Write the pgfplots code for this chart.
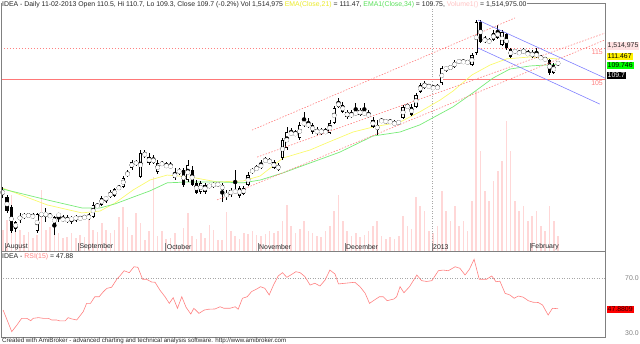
\documentclass[border=0pt]{standalone}
\usepackage{pgfplots}
\pgfplotsset{compat=1.18}
\usepackage{pgfplotstable}
\usepackage{fontspec}
\setmainfont{Liberation Sans}
\definecolor{salmon}{RGB}{255,128,128}
\definecolor{hlinec}{RGB}{255,120,120}
\definecolor{volpink}{RGB}{255,215,215}
\definecolor{emay}{RGB}{250,250,110}
\definecolor{emag}{RGB}{120,235,120}
\definecolor{tlblue}{RGB}{128,128,255}
\definecolor{framec}{RGB}{128,128,128}
\definecolor{txt}{RGB}{40,40,40}
\definecolor{hy}{RGB}{235,235,40}
\definecolor{hg}{RGB}{90,225,90}
\definecolor{hp}{RGB}{255,195,195}

\pgfplotstableread{
i O H L C
0 67.6 70.2 66.6 69.2
1 66.9 67.6 61.8 62.4
2 63.7 64.4 55.3 56.0
3 56.6 59.2 55.6 58.9
4 59.5 61.8 58.5 60.8
5 60.5 61.8 59.8 61.1
6 60.8 61.8 60.2 61.1
7 61.1 61.8 59.8 60.2
8 56.0 61.8 55.3 61.5
9 61.1 61.8 60.5 61.5
10 61.1 63.4 58.9 61.5
11 61.1 61.8 60.2 60.5
12 58.2 60.8 54.7 60.5
13 60.8 61.8 58.9 61.5
14 60.2 61.1 58.9 59.2
15 60.2 61.1 58.5 58.9
16 59.2 60.8 58.2 60.5
17 59.5 61.1 58.9 60.8
18 60.2 60.8 59.5 59.8
19 60.5 61.1 59.8 60.2
20 59.8 61.8 59.5 61.1
21 60.5 65.3 60.2 64.4
22 63.7 65.0 63.4 64.4
23 64.4 67.3 64.0 66.6
24 66.0 67.3 65.0 66.9
25 66.9 69.2 66.6 68.5
26 67.3 69.8 66.9 69.5
27 70.2 70.8 69.2 69.5
28 70.2 73.7 69.8 73.1
29 73.7 75.6 73.4 75.0
30 76.3 78.9 75.6 78.2
31 78.2 78.9 76.9 77.6
32 73.4 82.1 73.1 81.1
33 80.5 82.1 79.5 80.8
34 79.8 81.1 77.3 77.9
35 79.5 80.5 77.6 77.9
36 75.0 78.9 74.4 77.9
37 77.3 78.5 76.9 77.9
38 77.3 78.2 76.3 76.6
39 77.3 78.2 76.0 76.3
40 74.7 76.3 72.4 73.1
41 74.7 76.3 74.0 75.6
42 75.6 76.3 70.2 70.8
43 72.4 78.9 71.8 77.3
44 75.6 76.9 70.5 70.8
45 71.5 72.4 67.9 68.2
46 68.5 72.1 67.9 71.5
47 70.8 71.5 67.9 68.5
48 70.2 71.1 69.8 70.8
49 70.2 71.8 69.8 71.5
50 71.5 71.8 70.2 70.5
51 69.2 71.5 65.3 70.8
52 66.9 69.2 66.0 68.2
53 67.6 69.8 66.9 69.2
54 69.2 75.6 67.9 68.2
55 67.3 70.5 66.6 69.8
56 67.9 70.5 67.6 69.8
57 70.8 75.0 70.5 74.0
58 75.0 76.3 74.4 75.6
59 75.6 77.3 75.3 76.6
60 76.3 78.9 76.0 77.6
61 79.2 79.8 77.9 78.2
62 78.9 79.5 77.6 77.9
63 78.2 78.9 76.0 76.3
64 75.6 77.9 75.3 77.3
65 79.5 86.0 78.9 85.3
66 82.7 89.5 82.1 87.9
67 87.9 89.2 86.6 86.9
68 87.6 88.5 86.6 86.9
69 86.0 91.1 85.3 90.2
70 90.2 94.4 89.5 91.1
71 90.8 92.4 89.2 89.5
72 90.2 90.8 87.3 87.9
73 88.5 89.5 86.9 87.6
74 87.6 89.2 86.9 88.5
75 88.2 89.2 87.3 87.6
76 87.6 91.8 87.3 90.8
77 90.8 96.3 90.5 95.6
78 97.6 98.9 95.6 96.0
79 96.6 97.6 94.0 94.4
80 92.7 95.0 92.1 94.4
81 92.7 95.0 92.4 94.0
82 93.4 97.3 93.1 94.4
83 93.4 95.6 93.1 95.0
84 93.4 97.3 93.1 94.4
85 94.0 95.0 92.4 92.7
86 91.8 92.7 89.2 89.5
87 88.5 91.8 86.9 90.2
88 91.1 92.4 90.8 91.8
89 90.8 92.1 90.5 91.8
90 91.5 92.1 90.5 90.8
91 91.1 91.8 89.8 90.2
92 90.5 91.8 90.2 91.5
93 92.4 96.6 92.1 96.0
94 95.6 97.3 95.3 96.6
95 96.0 96.9 93.1 93.4
96 96.0 100.5 95.6 99.8
97 100.8 103.7 100.5 103.1
98 103.7 104.4 101.8 102.1
99 102.7 103.4 102.1 102.4
100 102.4 103.1 101.5 101.8
101 101.8 103.4 101.5 102.7
102 103.7 109.2 103.1 108.5
103 107.9 109.2 107.3 108.9
104 108.5 109.5 107.9 108.9
105 108.9 111.1 108.5 110.5
106 110.5 111.5 109.8 110.8
107 110.2 111.5 109.8 110.8
108 110.5 111.1 109.8 110.2
109 109.5 113.4 109.2 112.7
110 113.4 124.0 112.7 123.4
111 123.4 124.0 116.6 116.9
112 118.2 118.9 116.6 116.9
113 116.6 118.2 116.3 117.6
114 117.6 120.8 117.3 119.8
115 120.5 122.4 117.9 118.2
116 116.0 120.8 115.6 120.2
117 119.5 119.8 114.4 115.0
118 114.7 115.0 111.8 112.1
119 113.4 114.7 113.1 114.4
120 113.7 114.4 112.7 113.1
121 113.4 115.0 113.1 114.4
122 113.4 114.4 112.4 112.7
123 112.1 114.4 111.8 113.7
124 112.1 115.0 111.8 113.4
125 112.1 112.7 111.1 111.5
126 111.5 112.1 110.8 111.1
127 111.1 111.5 106.3 106.9
128 106.9 110.2 106.6 109.5
129 110.5 110.7 109.3 109.7
}\candles

\pgfplotstableread{
i V
0 2.1
1 3.1
2 5.6
3 2.4
4 2.1
5 1.6
6 1.9
7 1.3
8 1.6
9 6.1
10 2.1
11 2.4
12 1.8
13 1.8
14 1.3
15 1.4
16 1.8
17 1.3
18 1.6
19 1.4
20 3.1
21 2.1
22 1.9
23 2.8
24 2.1
25 1.8
26 2.1
27 3.4
28 4.4
29 2.4
30 1.6
31 3.8
32 2.8
33 1.1
34 2.0
35 7.4
36 1.5
37 2.0
38 1.2
39 1.3
40 1.8
41 0.5
42 2.3
43 3.8
44 1.5
45 1.2
46 1.8
47 1.3
48 2.6
49 2.1
50 1.1
51 1.1
52 3.9
53 2.0
54 1.5
55 1.2
56 1.8
57 1.7
58 2.0
59 1.6
60 1.5
61 1.7
62 2.0
63 1.8
64 2.0
65 3.0
66 4.6
67 2.5
68 1.8
69 2.2
70 3.0
71 2.0
72 1.8
73 1.5
74 1.4
75 2.0
76 2.5
77 4.0
78 5.6
79 3.0
80 2.0
81 1.5
82 1.8
83 1.4
84 1.6
85 2.0
86 2.5
87 3.0
88 1.5
89 1.2
90 1.4
91 1.2
92 1.5
93 3.5
94 2.5
95 2.2
96 5.4
97 4.5
98 4.0
99 2.0
100 1.8
101 2.5
102 6.0
103 4.0
104 3.0
105 4.5
106 2.5
107 3.0
108 2.0
109 5.0
110 16.0
111 10.0
112 6.0
113 5.0
114 7.0
115 8.0
116 9.0
117 13.0
118 10.0
119 5.0
120 4.0
121 4.5
122 3.0
123 3.5
124 4.0
125 2.5
126 2.0
127 4.5
128 3.0
129 1.5
}\vol

\pgfplotsset{chartaxis/.style={scale only axis, hide axis, width=604bp, xmin=-0.395, xmax=139.91}}

\begin{document}
\begin{tikzpicture}[every node/.style={font=\fontsize{6.9bp}{8bp}\selectfont, text=txt}]
\path[use as bounding box] (0,0) rectangle (640bp,-344bp);
% volume
\begin{axis}[chartaxis, at={(1bp,-251bp)}, anchor=south west, height=248bp, ymin=0, ymax=24.8]
\addplot[ycomb, color=volpink, line width=1.6bp] table[x=i, y=V] {\vol};
\end{axis}
% price
\begin{axis}[chartaxis, at={(1bp,-251bp)}, anchor=south west, height=248bp, ymin=49.51, ymax=129.51]
\addplot[color=gray!70, dotted, line width=0.5bp] coordinates {(99.7,49.51) (99.7,129.51)};
\addplot[color=hlinec, line width=1bp] coordinates {(-0.4,104.8) (139.9,104.8)};
\addplot[color=salmon, line width=0.6bp, dash pattern=on 1.5bp off 1.5bp] coordinates {(-0.4,115.0) (139.9,115.0)};
% EMA 21
\addplot[color=emay, line width=0.7bp] coordinates {
(0,69.8) (10.3,64.4) (18.4,61.8) (22.6,62.4) (26.1,65.0) (30.3,69.2) (34.2,72.4) (38.2,74.0) (43.5,73.4) (49.8,71.8) (55.8,72.1) (59.8,73.7) (65.1,79.5) (71.4,82.1) (75.3,84.4) (81.4,87.9) (86.0,89.5) (92.3,91.1) (96.9,94.4) (101.6,98.2) (104.6,101.1) (109.0,106.3) (113.2,109.5) (117.1,111.5) (122.5,112.1) (129,111.47)};
% EMA 34
\addplot[color=emag, line width=0.7bp] coordinates {
(0,69.5) (10.3,66.0) (18.4,63.4) (22.6,63.4) (26.1,64.7) (30.3,66.9) (34.2,68.9) (38.2,71.5) (43.5,71.8) (49.8,71.8) (55.8,71.5) (59.8,72.4) (65.1,74.7) (71.4,77.9) (78.3,81.4) (86.0,86.6) (92.3,87.9) (96.9,90.2) (104.6,96.0) (109.2,100.5) (113.9,105.3) (117.8,108.2) (122.5,109.2) (129,109.75)};
% wicks
\addplot[color=black, only marks, mark=none, error bars/.cd, y dir=both, y explicit, error mark=none,
  error bar style={color=black, line width=0.6bp}]
  table[x=i, y expr={(\thisrow{H}+\thisrow{L})/2}, y error expr={(\thisrow{H}-\thisrow{L})/2}] {\candles};
% bodies (all black)
\addplot[color=black, only marks, mark=none,
  error bars/.cd, y dir=both, y explicit, error mark=none,
  error bar style={color=black, line width=3.2bp}]
  table[x=i, y expr={(\thisrow{O}+\thisrow{C})/2}, y error expr={max(abs(\thisrow{C}-\thisrow{O})/2,0.15)}] {\candles};
% hollow interior of rising candles
\addplot[color=white, only marks, mark=none,
  error bars/.cd, y dir=both, y explicit, error mark=none,
  error bar style={color=white, line width=1.8bp}]
  table[x=i, y expr={(\thisrow{O}+\thisrow{C})/2}, y error expr={max((\thisrow{C}-\thisrow{O})/2-0.25,0)}] {\candles};
% trend lines
\addplot[color=salmon, line width=0.6bp, dash pattern=on 1.5bp off 1.5bp] coordinates {(57.9,88.5) (119.0,124.7)};
\addplot[color=salmon, line width=0.6bp, dash pattern=on 1.5bp off 1.5bp] coordinates {(59.1,79.8) (139.9,119.8)};
\addplot[color=salmon, line width=0.6bp, dash pattern=on 1.5bp off 1.5bp] coordinates {(49.8,66.0) (139.9,117.6)};
\addplot[color=tlblue, line width=0.6bp] coordinates {(110.4,124.0) (139.9,105.3)};
\addplot[color=tlblue, line width=0.6bp] coordinates {(110.4,115.0) (138.7,96.9)};
\end{axis}
% RSI
\begin{axis}[chartaxis, at={(1bp,-337bp)}, anchor=south west, height=85.5bp, ymin=27.31, ymax=89.49]
\addplot[color=gray!70, dotted, line width=0.5bp] coordinates {(-0.4,70) (139.9,70)};
\addplot[color=salmon, line width=0.6bp] coordinates {
(0.1,46.9) (2.1,31.2) (3.3,36.0) (4.4,40.9) (5.6,40.9) (6.5,39.2) (7.1,40.9) (8.3,41.4) (9.4,40.9) (10.6,40.9) (11.4,39.7) (12.5,39.7) (13.3,39.0) (14.5,39.0) (15.2,41.4) (16.0,40.5) (17.2,39.7) (18.7,45.7) (19.5,51.8) (20.4,51.8) (21.4,56.6) (22.4,56.6) (23.4,60.3) (24.2,62.7) (25.3,63.5) (26.5,69.3) (27.4,72.4) (28.2,75.5) (29.4,74.1) (30.5,78.4) (31.4,78.0) (32.5,69.3) (33.4,69.3) (34.6,67.3) (35.4,67.1) (36.5,61.5) (37.7,56.6) (38.7,51.8) (39.6,55.9) (40.6,48.2) (41.6,56.6) (42.6,48.9) (43.7,44.0) (44.4,48.2) (45.6,44.5) (46.8,46.9) (47.8,47.5) (49.3,47.7) (50.5,49.3) (51.4,48.2) (52.8,48.2) (54.0,49.3) (54.7,47.5) (55.7,55.5) (56.8,56.6) (57.8,60.3) (59.0,62.2) (59.9,63.9) (60.9,62.7) (61.9,57.9) (62.9,65.1) (64.0,71.7) (65.0,74.1) (66.0,70.7) (66.9,72.4) (68.1,74.8) (69.1,74.1) (70.2,71.2) (71.4,65.1) (72.5,66.4) (73.7,64.4) (74.9,68.8) (76.0,76.0) (77.2,73.1) (78.0,65.9) (79.5,66.4) (81.8,67.1) (83.0,63.9) (84.2,59.1) (85.2,51.8) (86.1,53.7) (87.5,56.6) (88.4,56.6) (89.3,53.7) (90.9,55.0) (91.5,56.6) (92.3,63.9) (93.2,59.5) (94.5,63.9) (96.2,72.4) (97.3,68.3) (98.5,67.7) (99.7,68.3) (101.2,75.5) (102.3,76.0) (103.5,75.5) (105.1,78.4) (106.2,77.3) (107.4,72.4) (108.4,76.5) (109.5,83.8) (110.7,69.3) (112.4,69.3) (113.6,71.7) (114.6,67.5) (115.5,67.9) (116.7,59.1) (117.8,57.9) (118.8,55.5) (119.8,57.1) (120.9,56.3) (122.1,53.7) (123.2,52.6) (124.4,52.4) (125.4,50.6) (126.7,43.3) (127.7,48.2) (129,47.88)};
\end{axis}
% frames
\draw[framec, line width=0.7bp] (1bp,-3bp) rectangle (605bp,-251.5bp);
\draw[framec, line width=0.7bp] (1bp,-251.5bp) rectangle (605bp,-337bp);
% month ticks and labels
\foreach \px/\lab in {5/August, 78.3/September, 165.7/October, 258/November, 345/December, 432/2013, 530/February}{
  \draw[framec, line width=0.6bp] (\px bp,-243bp) -- (\px bp,-250.5bp);
  \node[anchor=west, inner sep=0pt] at (\px bp+1bp,-247bp) {\lab};
}
% header
\node[anchor=west, inner sep=0.5bp, fill=white] at (1.5bp,-4.5bp) {IDEA - Daily 11-02-2013 Open 110.5, Hi 110.7, Lo 109.3, Close 109.7 (-0.2\%) Vol 1,514,975 \textcolor{hy}{EMA(Close,21)} = 111.47, \textcolor{hg}{EMA1(Close,34)} = 109.75, \textcolor{hp}{Volume1()} = 1,514,975.00};
\node[anchor=west, inner sep=0.5bp] at (1.5bp,-256.5bp) {IDEA - \textcolor{salmon}{RSI(15)} = 47.88};
\node[anchor=west, inner sep=0pt, font=\fontsize{6.2bp}{7bp}\selectfont] at (2bp,-340.5bp) {Created with AmiBroker - advanced charting and technical analysis software. http://www.amibroker.com};
% right labels
\node[anchor=west, inner sep=1bp, fill=hp!50, minimum height=7bp] at (606.5bp,-46bp) {1,514,975};
\node[anchor=west, inner sep=1bp, fill=yellow, minimum height=7bp, text=black] at (606.5bp,-56bp) {111.467};
\node[anchor=west, inner sep=1bp, fill=green, minimum height=7bp, text=black] at (606.5bp,-65.5bp) {109.746};
\node[anchor=west, inner sep=1bp, fill=black, minimum height=7bp, text=white] at (606.5bp,-75bp) {109.7};
\node[anchor=east, inner sep=0pt, text=salmon] at (603bp,-52.5bp) {115};
\node[anchor=east, inner sep=0pt, text=salmon] at (603bp,-83bp) {105};
\node[anchor=west, inner sep=0pt, text=gray] at (625bp,-278.3bp) {70.0};
\node[anchor=west, inner sep=0pt, text=gray] at (625bp,-333.3bp) {30.0};
\node[anchor=west, inner sep=1bp, fill=red, minimum height=7bp, text=black!80!red] at (606.5bp,-309bp) {47.8809};
\end{tikzpicture}
\end{document}
